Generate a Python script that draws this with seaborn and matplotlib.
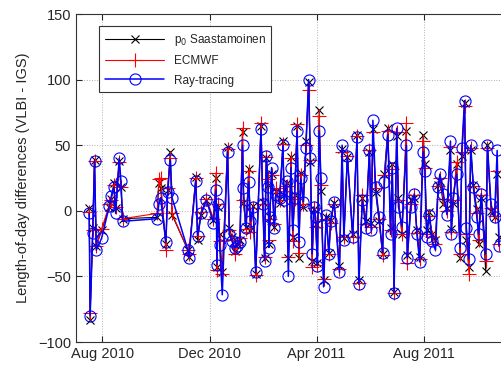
import pandas as pd
import numpy as np
import matplotlib
matplotlib.use("Agg")
import matplotlib.pyplot as plt
import matplotlib.dates as mdates
import seaborn as sns

# Session dates and length-of-day differences (VLBI - IGS)
dates = [
    "2010-07-17", "2010-07-18", "2010-07-21", "2010-07-23", "2010-07-25", "2010-07-31",
    "2010-08-09", "2010-08-11", "2010-08-14", "2010-08-16", "2010-08-20", "2010-08-22",
    "2010-08-24", "2010-10-02", "2010-10-04", "2010-10-06", "2010-10-12", "2010-10-14",
    "2010-10-17", "2010-10-19", "2010-11-06", "2010-11-07", "2010-11-15", "2010-11-17",
    "2010-11-21", "2010-11-27", "2010-12-05", "2010-12-08", "2010-12-09", "2010-12-10",
    "2010-12-12", "2010-12-15", "2010-12-21", "2010-12-23", "2010-12-26", "2010-12-29",
    "2011-01-01", "2011-01-04", "2011-01-07", "2011-01-08", "2011-01-11", "2011-01-14",
    "2011-01-16", "2011-01-19", "2011-01-22", "2011-01-28", "2011-01-30", "2011-02-01",
    "2011-02-03", "2011-02-05", "2011-02-06", "2011-02-07", "2011-02-09", "2011-02-12",
    "2011-02-14", "2011-02-18", "2011-02-22", "2011-02-23", "2011-02-26", "2011-02-28",
    "2011-03-03", "2011-03-05", "2011-03-07", "2011-03-10", "2011-03-12", "2011-03-14",
    "2011-03-17", "2011-03-20", "2011-03-23", "2011-03-25", "2011-03-27", "2011-03-29",
    "2011-03-31", "2011-04-02", "2011-04-04", "2011-04-06", "2011-04-09", "2011-04-12",
    "2011-04-15", "2011-04-17", "2011-04-21", "2011-04-27", "2011-04-30", "2011-05-02",
    "2011-05-06", "2011-05-12", "2011-05-17", "2011-05-19", "2011-05-23", "2011-05-27",
    "2011-05-31", "2011-06-02", "2011-06-04", "2011-06-07", "2011-06-11", "2011-06-15",
    "2011-06-17", "2011-06-21", "2011-06-24", "2011-06-26", "2011-06-28", "2011-07-01",
    "2011-07-03", "2011-07-07", "2011-07-12", "2011-07-13", "2011-07-17", "2011-07-21",
    "2011-07-24", "2011-07-27", "2011-07-31", "2011-08-02", "2011-08-04", "2011-08-07",
    "2011-08-10", "2011-08-14", "2011-08-17", "2011-08-19", "2011-08-23", "2011-08-27",
    "2011-08-31", "2011-09-01", "2011-09-03", "2011-09-07", "2011-09-11", "2011-09-13",
    "2011-09-16", "2011-09-18", "2011-09-21", "2011-09-23", "2011-09-26", "2011-09-30",
    "2011-10-02", "2011-10-05", "2011-10-10", "2011-10-12", "2011-10-16", "2011-10-20",
    "2011-10-23", "2011-10-25",
]

saastamoinen = [
    2, -83, -13, 39, -27, -15,
    3, 9, 21, 2, 38, 18,
    -6, -5, 21, 17, -25, 16,
    45, -3, -30, -35, 26, -22,
    -3, 8, -7, 25, -43, 3,
    -18, -47, 49, -13, -20, -31,
    -25, -22, 60, 6, -12, 32,
    -15, 4, -48, 65, 7, -36,
    40, 20, -25, -5, 28, -12,
    15, 6, 53, 12, 21, -36,
    41, -20, 12, 65, -36, 29,
    3, 53, 98, 37, -38, 1,
    -10, -40, 77, 15, -53, -5,
    -32, -7, 6, -42, 47, -21,
    41, -18, 58, -53, 10, -8,
    45, -9, 62, 14, -8, -33,
    28, 63, -13, 36, -62, 57,
    10, -18, 61, -34, 8, 10,
    -15, -35, 58, 36, -15, -1,
    -18, -22, 20, 23, 5, 2,
    46, -14, 6, 36, -36, 42,
    82, -22, -43, 46, 20, 1,
    -25, 10, -46, 50, 0, -5,
    28, -20,
]

ecmwf = [
    -1, -78, -15, 38, -27, -14,
    5, 8, 20, 3, 37, 18,
    -6, -2, 24, 25, -30, 17,
    40, -2, -30, -33, 25, -19,
    -1, 9, -6, 29, -45, 5,
    -23, -48, 47, -15, -22, -33,
    -26, -21, 63, 8, -14, 30,
    -16, 2, -49, 67, 5, -35,
    41, 24, -22, -6, 27, -10,
    17, 8, 51, 15, 19, -35,
    40, -23, 9, 66, -32, 27,
    5, 50, 92, 39, -43, 2,
    -12, -41, 72, 20, -52, -6,
    -33, -9, 5, -44, 45, -20,
    42, -20, 57, -55, 12, -10,
    46, -12, 60, 17, -6, -34,
    27, 61, -15, 32, -63, 60,
    8, -18, 67, -40, 5, 12,
    -17, -37, 53, 33, -18, -4,
    -20, -25, 19, 25, 9, 0,
    49, -16, 8, 37, -33, 45,
    80, -18, -48, 48, 19, -2,
    -22, 12, -38, 48, 2, -4,
    30, -25,
]

ray_tracing = [
    -2, -80, -17, 38, -30, -21,
    4, 11, 18, -2, 40, 23,
    -8, -6, 5, 10, -24, 14,
    39, 10, -30, -36, 23, -19,
    -2, 8, -9, 16, -41, 5,
    -26, -64, 45, -18, -23, -28,
    -27, -24, 50, 17, -13, 22,
    -8, 3, -47, 62, 5, -38,
    42, 18, -28, -5, 33, -13,
    12, 10, 50, 8, 23, -50,
    33, -15, 10, 61, -24, 25,
    7, 48, 100, 40, -33, 3,
    -5, -42, 61, 25, -58, -3,
    -33, -8, 7, -47, 50, -22,
    42, -20, 56, -56, 8, -13,
    46, -15, 69, 18, -5, -32,
    22, 58, -18, 33, -63, 63,
    3, -12, 50, -36, 3, 13,
    -18, -39, 45, 30, -20, -3,
    -23, -30, 18, 28, 13, -3,
    53, -18, 10, 28, -28, 48,
    84, -13, -37, 50, 18, -5,
    -18, 13, -33, 50, 5, -5,
    46, -27,
]

df = pd.DataFrame({
    "date": pd.to_datetime(dates),
    "saast": saastamoinen,
    "ecmwf": ecmwf,
    "ray": ray_tracing,
})

sns.set_style("ticks")
plt.rcParams["font.family"] = ["Liberation Sans", "DejaVu Sans"]

fig = plt.figure(figsize=(5.02, 3.69), dpi=100)
ax = fig.add_axes([76 / 502, 27 / 369, 0.86, 328 / 369])

sns.lineplot(data=df, x="date", y="saast", ax=ax, color="k", lw=0.8,
             marker="x", markersize=6, markeredgewidth=0.8,
             markeredgecolor="k", label="p$_0$ Saastamoinen")
sns.lineplot(data=df, x="date", y="ecmwf", ax=ax, color="r", lw=0.8,
             marker="+", markersize=10, markeredgewidth=0.8,
             markeredgecolor="r", label="ECMWF")
sns.lineplot(data=df, x="date", y="ray", ax=ax, color="b", lw=1.1,
             marker="o", markersize=8, markerfacecolor="none",
             markeredgecolor="b", markeredgewidth=0.8,
             label="Ray-tracing")

ax.set_xlim(pd.Timestamp("2010-07-02"), pd.Timestamp("2011-11-04"))
ax.set_ylim(-100, 150)
ax.set_yticks([-100, -50, 0, 50, 100, 150])
ax.xaxis.set_major_locator(mdates.MonthLocator(bymonth=[4, 8, 12]))
ax.xaxis.set_major_formatter(mdates.DateFormatter("%b %Y"))

ax.grid(True, linestyle=":", color="#b0b0b0", lw=0.7)
ax.tick_params(direction="in", top=True, right=True, labelsize=10.5, length=4)
for s in ax.spines.values():
    s.set_linewidth(0.8)
    s.set_color("#333333")

ax.set_xlabel("")
ax.set_ylabel("Length-of-day differences (VLBI - IGS)", fontsize=10.5, labelpad=6)

leg = ax.legend(loc="upper left", bbox_to_anchor=(0.04, 0.98), fontsize=8.5,
                fancybox=False, framealpha=1, edgecolor="#333333",
                handlelength=5, borderpad=0.5, labelspacing=0.6)
leg.get_frame().set_linewidth(0.8)

fig.savefig("out.png", dpi=100)
